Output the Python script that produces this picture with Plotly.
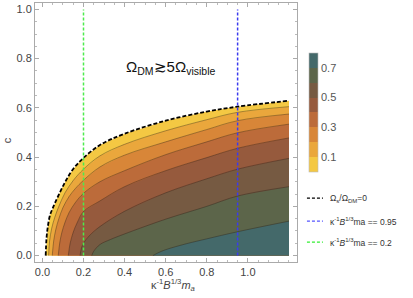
import plotly.graph_objects as go

# ---------------- data ----------------
levels = [0.0, 0.1, 0.2, 0.3, 0.4, 0.5, 0.6, 0.7]
band_colors = ["#F4C843", "#EAA73C", "#D88638", "#BC6B3A", "#965A3D", "#765A42", "#5C654A", "#44696A"]
colorbar_ticks = [0.1, 0.3, 0.5, 0.7]

L0_x = [0.016, 0.020, 0.026, 0.037, 0.050, 0.068, 0.090, 0.116, 0.15, 0.2, 0.28, 0.4, 0.6, 0.8, 0.95, 1.2]
L0_c = [0.0, 0.07, 0.115, 0.164, 0.192, 0.226, 0.265, 0.307, 0.352, 0.397, 0.449, 0.495, 0.548, 0.585, 0.605, 0.629]
L1_x = [0.030, 0.035, 0.045, 0.060, 0.080, 0.110, 0.15, 0.2, 0.28, 0.4, 0.6, 0.8, 0.95, 1.2]
L1_c = [0.0, 0.06, 0.11, 0.155, 0.2, 0.255, 0.305, 0.351, 0.405, 0.452, 0.507, 0.552, 0.582, 0.605]
L2_x = [0.048, 0.055, 0.065, 0.080, 0.100, 0.130, 0.16, 0.2, 0.28, 0.4, 0.6, 0.8, 0.95, 1.2]
L2_c = [0.0, 0.06, 0.105, 0.15, 0.195, 0.24, 0.272, 0.306, 0.36, 0.408, 0.462, 0.512, 0.548, 0.575]
L3_x = [0.077, 0.085, 0.095, 0.110, 0.130, 0.160, 0.2, 0.28, 0.4, 0.6, 0.8, 0.95, 1.2]
L3_c = [0.0, 0.055, 0.095, 0.135, 0.175, 0.215, 0.253, 0.3, 0.345, 0.41, 0.462, 0.499, 0.534]
L4_x = [0.126, 0.135, 0.150, 0.170, 0.2, 0.28, 0.4, 0.6, 0.8, 0.95, 1.2]
L4_c = [0.0, 0.05, 0.095, 0.135, 0.179, 0.222, 0.28, 0.345, 0.398, 0.436, 0.478]
L5_x = [0.183, 0.190, 0.2, 0.23, 0.28, 0.4, 0.6, 0.8, 0.95, 1.2]
L5_c = [0.0, 0.03, 0.05, 0.082, 0.118, 0.18, 0.255, 0.312, 0.351, 0.395]
L6_x = [0.24, 0.25, 0.28, 0.33, 0.4, 0.6, 0.8, 0.95, 1.2]
L6_c = [0.0, 0.018, 0.045, 0.065, 0.088, 0.148, 0.2, 0.242, 0.28]
L7_x = [0.538, 0.56, 0.6, 0.7, 0.8, 0.95, 1.2]
L7_c = [0.0, 0.01, 0.024, 0.048, 0.068, 0.097, 0.14]

curves_x = [L0_x, L1_x, L2_x, L3_x, L4_x, L5_x, L6_x, L7_x]
curves_c = [L0_c, L1_c, L2_c, L3_c, L4_c, L5_c, L6_c, L7_c]

green_x = [0.2, 0.2]
blue_x = [0.95, 0.95]
vline_c = [0.0, 1.0]
x_max = 1.2

x_ticks = [0.0, 0.2, 0.4, 0.6, 0.8, 1.0]
y_ticks = [0.0, 0.2, 0.4, 0.6, 0.8, 1.0]

FONT = "Liberation Sans, Arial, sans-serif"

fig = go.Figure()

# filled bands (region with value >= level k lies below/right of curve k)
for k in range(len(levels)):
    xs = list(curves_x[k]) + [x_max]
    ys = list(curves_c[k]) + [0.0]
    fig.add_trace(go.Scatter(x=xs, y=ys, mode="lines", fill="toself",
                             fillcolor=band_colors[k], line=dict(width=0),
                             hoverinfo="skip", showlegend=False))

# contour lines
for k in range(1, len(levels)):
    fig.add_trace(go.Scatter(x=curves_x[k], y=curves_c[k], mode="lines",
                             line=dict(color="rgba(40,30,20,0.55)", width=0.7, shape="spline"),
                             hoverinfo="skip", showlegend=False))

# boundary Omega_s/Omega_DM = 0
fig.add_trace(go.Scatter(x=L0_x, y=L0_c, mode="lines",
                         line=dict(color="black", width=1.8, dash="4px,2px", shape="spline"),
                         showlegend=False))

# vertical lines
fig.add_trace(go.Scatter(x=green_x, y=vline_c, mode="lines",
                         line=dict(color="#4CEB4C", width=1.5, dash="3px,2px"), showlegend=False))
fig.add_trace(go.Scatter(x=blue_x, y=vline_c, mode="lines",
                         line=dict(color="#3A3AF0", width=1.5, dash="3px,2px"), showlegend=False))

# colorbar carrier
cs = []
n = len(band_colors)
for i, col in enumerate(band_colors):
    cs.append([i / n, col])
    cs.append([(i + 1) / n, col])
fig.add_trace(go.Scatter(
    x=[-1], y=[-1], mode="markers", showlegend=False, hoverinfo="skip",
    marker=dict(size=1, color=[0.4], cmin=0, cmax=0.8, colorscale=cs, showscale=True,
                colorbar=dict(x=1.046, xanchor="left", xpad=0, ypad=0,
                              y=0.578, yanchor="middle", lenmode="pixels", len=119,
                              thickness=9, outlinewidth=0.6, outlinecolor="#BBBBBB",
                              tickvals=colorbar_ticks, ticktext=[str(t) for t in colorbar_ticks],
                              ticks="", tickfont=dict(size=11, color="#555555", family=FONT)))))

axis_common = dict(showline=True, linecolor="#AAAAAA", linewidth=1, mirror="ticks",
                   ticks="inside", ticklen=4, tickcolor="#AAAAAA", showgrid=False, zeroline=False,
                   automargin=False,
                   tickfont=dict(size=11, color="#444444", family=FONT),
                   minor=dict(ticks="inside", ticklen=2, tickcolor="#BBBBBB", dtick=0.05))

fig.update_xaxes(range=[-0.036, 1.239], tickvals=x_ticks,
                 ticktext=[f"{v:.1f}" for v in x_ticks], **axis_common)
fig.update_yaxes(range=[-0.026, 1.026], tickvals=y_ticks,
                 ticktext=[f"{v:.1f}" for v in y_ticks], **axis_common)

# axis titles
fig.add_annotation(x=0.53, y=-0.089, xref="paper", yref="paper", showarrow=False,
                   xanchor="center", yanchor="middle",
                   text="κ<sup>-1</sup><i>B</i><sup>1/3</sup><i>m<sub>a</sub></i>",
                   font=dict(size=11, color="#444444", family=FONT))
fig.add_annotation(x=-0.107, y=0.47, xref="paper", yref="paper", showarrow=False,
                   xanchor="center", yanchor="middle", textangle=-90, text="c",
                   font=dict(size=11, color="#444444", family=FONT))

fig.add_annotation(x=0.625, y=0.765, xref="x", yref="y", showarrow=False,
                   text="Ω<sub>DM</sub>≳5Ω<sub>visible</sub>",
                   font=dict(size=15, color="#111111", family=FONT))

# legend (drawn manually)
leg = [("black", "Ω<sub>s</sub>/Ω<sub>DM</sub>=0", 0.247),
       ("#5555FF", "κ<sup>-1</sup><i>B</i><sup>1/3</sup>ma == 0.95", 0.158),
       ("#33EE33", "κ<sup>-1</sup><i>B</i><sup>1/3</sup>ma == 0.2", 0.077)]
for col, txt, yy in leg:
    fig.add_shape(type="line", xref="paper", yref="paper", x0=1.038, x1=1.099, y0=yy, y1=yy,
                  line=dict(color=col, width=1.3, dash="3px,2px"))
    fig.add_annotation(x=1.117, y=yy, xref="paper", yref="paper", xanchor="left", yanchor="middle",
                       showarrow=False, text=txt, font=dict(size=8.5, color="#333333", family=FONT))

fig.update_layout(width=413, height=298, margin=dict(l=35, r=116, t=3, b=36, autoexpand=False),
                  paper_bgcolor="white", plot_bgcolor="white", showlegend=False,
                  font=dict(family=FONT))

fig.write_html("out.html", config={"displayModeBar": False},
               post_script="document.body.style.margin='0px';")
